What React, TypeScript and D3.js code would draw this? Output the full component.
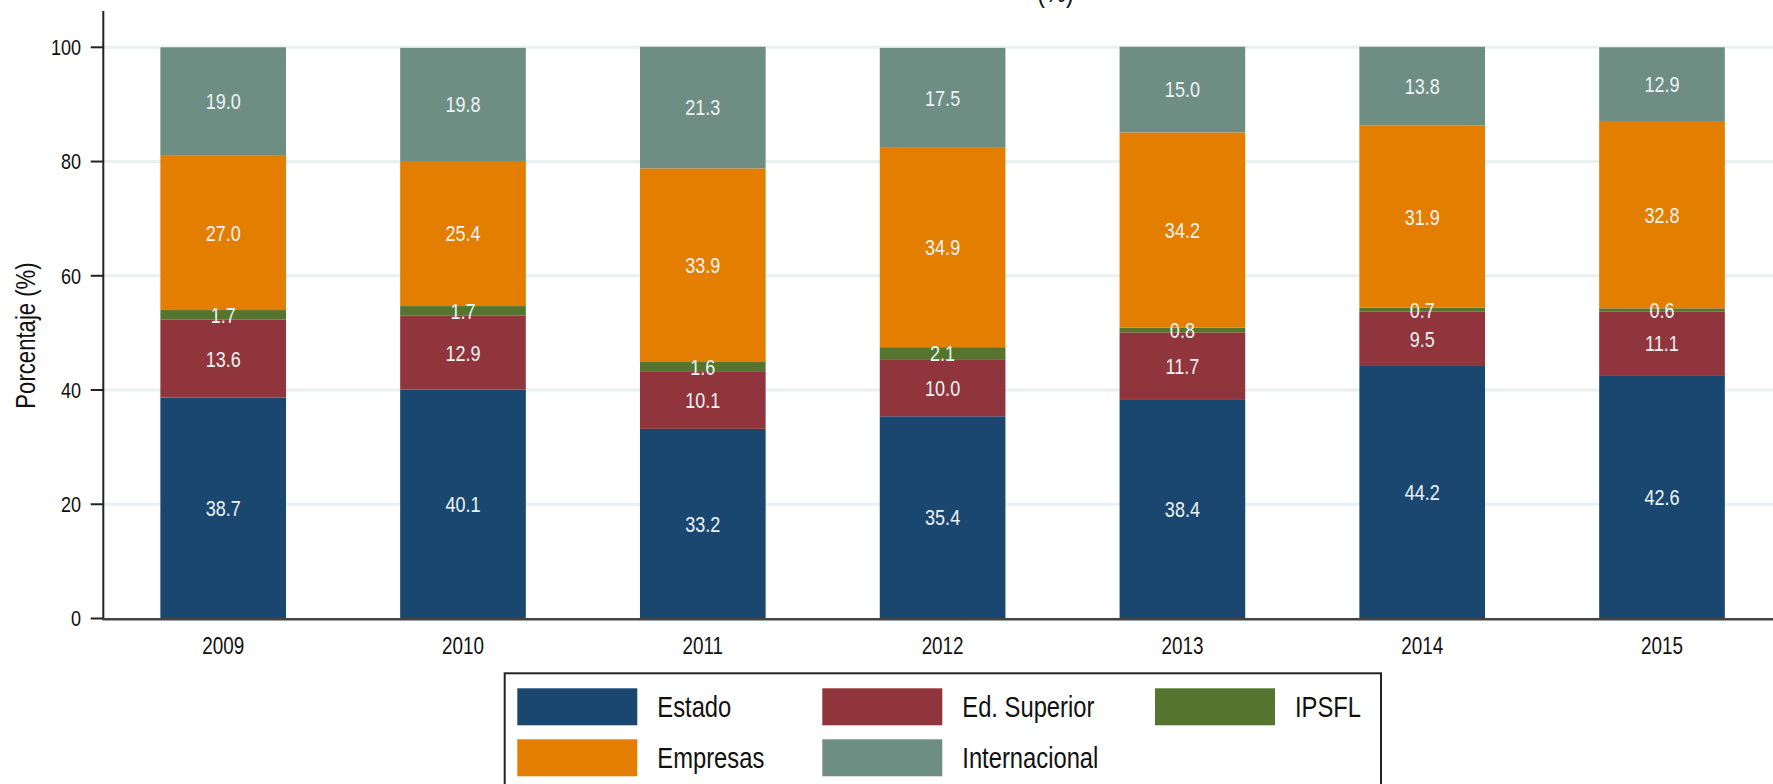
import React from "react";
import * as d3 from "d3";

const years = ["2009", "2010", "2011", "2012", "2013", "2014", "2015"];
const seriesNames = ["Estado", "Ed. Superior", "IPSFL", "Empresas", "Internacional"];
const estado = [38.7, 40.1, 33.2, 35.4, 38.4, 44.2, 42.6];
const edSuperior = [13.6, 12.9, 10.1, 10.0, 11.7, 9.5, 11.1];
const ipsfl = [1.7, 1.7, 1.6, 2.1, 0.8, 0.7, 0.6];
const empresas = [27.0, 25.4, 33.9, 34.9, 34.2, 31.9, 32.8];
const internacional = [19.0, 19.8, 21.3, 17.5, 15.0, 13.8, 12.9];
const yTicks = [0, 20, 40, 60, 80, 100];
const colors = ["#1a476f", "#90353b", "#55752f", "#e37e00", "#6e8e84"];
const yTitle = "Porcentaje (%)";

const W = 1773;
const H = 784;
const FONT = "'Liberation Sans', Arial, sans-serif";
const NARROW = 0.82;

function NText(props: {
  x: number;
  y: number;
  size: number;
  anchor?: string;
  fill: string;
  rotate?: number;
  children: React.ReactNode;
}) {
  const { x, y, size, anchor, fill, rotate, children } = props;
  return (
    <text
      transform={`translate(${x},${y})${rotate ? ` rotate(${rotate})` : ""} scale(${NARROW},1)`}
      textAnchor={anchor || "start"}
      dy="0.36em"
      fontSize={size}
      fill={fill}
    >
      {children}
    </text>
  );
}

export default function App() {
  const values = [estado, edSuperior, ipsfl, empresas, internacional];
  const x = d3
    .scaleBand<string>()
    .domain(years)
    .range([103.3, 103.3 + 7 * 239.8])
    .paddingInner(0.476)
    .paddingOuter(0.238);
  const y = d3.scaleLinear().domain([0, 100]).range([618.5, 47.3]);

  const table = years.map((yr, i) => {
    const row: any = { year: yr };
    seriesNames.forEach((s, k) => (row[s] = values[k][i]));
    return row;
  });
  const stacked = d3.stack<any>().keys(seriesNames)(table);

  const legendItems = [
    { name: "Estado", col: 0, row: 0 },
    { name: "Ed. Superior", col: 1, row: 0 },
    { name: "IPSFL", col: 2, row: 0 },
    { name: "Empresas", col: 0, row: 1 },
    { name: "Internacional", col: 1, row: 1 },
  ];
  const colX = [517.3, 822.3, 1155];
  const rowY = [688.3, 739.3];

  return (
    <svg
      width={W}
      height={H}
      style={{ position: "absolute", left: 0, top: 0, background: "#fff" }}
      fontFamily={FONT}
    >
      <rect x={0} y={0} width={W} height={H} fill="#ffffff" />
      {/* cut-off title */}
      <text transform={`translate(1074,2) scale(${NARROW},1)`} textAnchor="end" fontSize={29} fill="#111">
        (%)
      </text>
      {/* gridlines */}
      {yTicks
        .filter((t) => t > 0)
        .map((t) => (
          <line key={t} x1={104} x2={W} y1={y(t)} y2={y(t)} stroke="#e8f0f2" strokeWidth={3} />
        ))}
      {/* bars */}
      {stacked.map((layer, k) => (
        <g key={layer.key} fill={colors[k]}>
          {layer.map((d, i) => (
            <rect
              key={i}
              x={x(years[i])}
              width={x.bandwidth()}
              y={y(d[1])}
              height={y(d[0]) - y(d[1])}
            />
          ))}
        </g>
      ))}
      {/* value labels */}
      {stacked.map((layer, k) => (
        <g key={"l" + layer.key}>
          {layer.map((d, i) => (
            <NText
              key={i}
              x={(x(years[i]) as number) + x.bandwidth() / 2}
              y={y((d[0] + d[1]) / 2)}
              anchor="middle"
              size={22}
              fill="#eef3f5"
            >
              {values[k][i].toFixed(1)}
            </NText>
          ))}
        </g>
      ))}
      {/* y axis */}
      <line x1={103.3} x2={103.3} y1={11} y2={619} stroke="#222" strokeWidth={2} />
      {yTicks.map((t) => (
        <g key={"yt" + t}>
          <line x1={90.7} x2={103.3} y1={y(t)} y2={y(t)} stroke="#222" strokeWidth={2} />
          <NText x={81} y={y(t)} anchor="end" size={22} fill="#111">
            {t}
          </NText>
        </g>
      ))}
      <text
        transform={`translate(35,335.5) rotate(-90) scale(${NARROW},1)`}
        textAnchor="middle"
        fontSize={27}
        fill="#111"
      >
        {yTitle}
      </text>
      {/* x axis */}
      <line x1={102.3} x2={W} y1={619.3} y2={619.3} stroke="#444" strokeWidth={2.5} />
      {years.map((yr) => (
        <NText
          key={"xt" + yr}
          x={(x(yr) as number) + x.bandwidth() / 2}
          y={645.7}
          anchor="middle"
          size={23}
          fill="#111"
        >
          {yr}
        </NText>
      ))}
      {/* legend */}
      <rect x={504.7} y={673.3} width={876.3} height={130} fill="#fff" stroke="#222" strokeWidth={2} />
      {legendItems.map((it) => {
        const k = seriesNames.indexOf(it.name);
        return (
          <g key={"lg" + it.name}>
            <rect x={colX[it.col]} y={rowY[it.row]} width={120} height={37} fill={colors[k]} />
            <NText x={colX[it.col] + 140} y={rowY[it.row] + 18.5} size={29} fill="#111">
              {it.name}
            </NText>
          </g>
        );
      })}
    </svg>
  );
}
